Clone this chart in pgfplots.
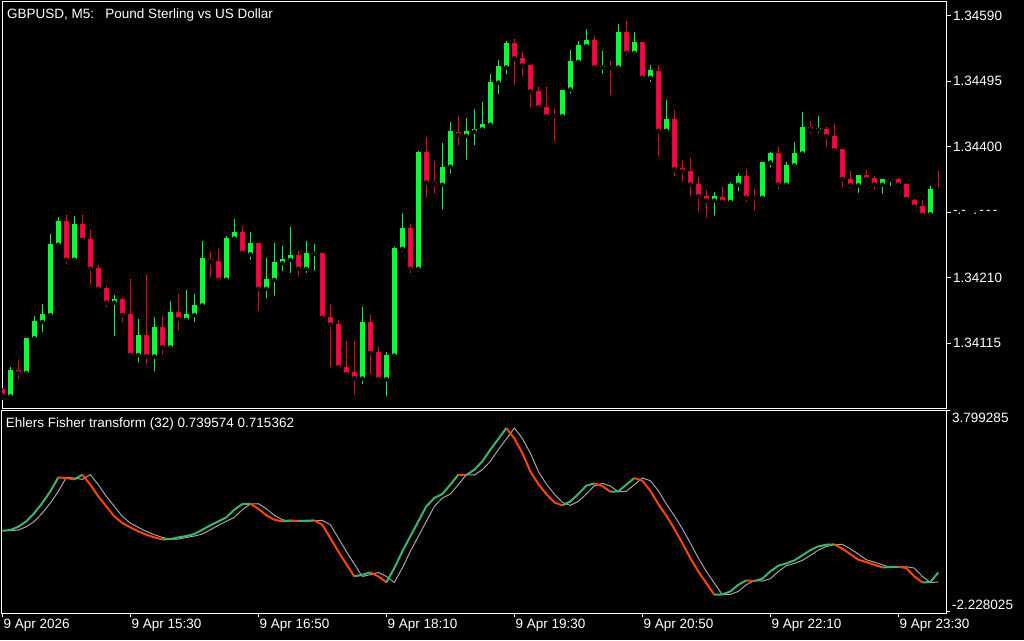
\documentclass[border=0pt]{standalone}
\usepackage{pgfplots}
\pgfplotsset{compat=1.18}
\usepackage{pgfplotstable}
\usepackage{fontspec}
\setmainfont{Liberation Sans}
\definecolor{bullc}{RGB}{0,255,51}
\definecolor{bearc}{RGB}{255,0,0}
\definecolor{bearf}{RGB}{255,0,96}
\definecolor{fgreen}{RGB}{60,179,113}
\definecolor{forange}{RGB}{255,69,0}
\definecolor{fsig}{RGB}{165,165,165}
\newcommand{\mtfont}{\fontsize{13.5}{16}\selectfont}

% GBPUSD M5 candles, prices given in points above 1.34000 (1 point = 0.00001)
% i = bar index (0 = 9 Apr 14:10)
\pgfplotstableread{
i o h l c
1 38 81 35 76
3 72 123 67 123
4 122 155 122 147
5 146 172 128 157
6 156 273 154 259
7 258 298 256 292
9 236 300 236 288
14 174 185 122 179
17 98 150 84 127
19 96 153 71 139
21 109 176 107 160
23 149 192 146 157
24 156 186 143 171
25 170 263 165 239
28 207 271 207 268
29 267 295 262 276
31 244 276 233 260
33 194 239 177 208
34 207 260 181 233
35 231 256 216 237
36 236 284 214 243
38 223 263 214 246
39 245 259 217 246.5
45 64 168 53 146
48 63 102 35 98
49 97 255 97 253
50 252 304 245 282
52 223 394 216 392
55 345 405 306 371
56 371 436 358 423
58 416 442 378 423
59 422 455 399 426
60 425 465 425 433
61 432 506 425 494
62 493 526 473 517
63 515 553 502 550
70 444 482 444 482
71 483 540 474 524
72 523 553 517 548
73 546 571 541 555
75 515 539 503 516.5
77 515 578 510 566
79 536 566 535 552
81 500 519 491 511
83 423 468 423 440
89 322 335 297 328
91 320 348 316 346
92 345 362 332 358
95 326 378 325 378
96 377 392 367 391
98 345 378 341 374
99 373 407 368 391
100 390 450 390 429
102 425 445 417 426.5
107 344 359 330 359
110 345 353 329 353
111 352 354 340 353.5
116 302 343 301 339
}\bull
\pgfplotstableread{
i o h l c
0 49 50 36 39
2 76 91 60 72
8 292 301 227 236
10 288 301 265 265
11 266 279 197 223
12 224 229 188 194
13 195 198 165 174
15 179 181 143 156
16 157 208 98 98
18 127 214 82 96
20 139 155 96 109
22 160 186 130 150
26 237 247 208 234
27 234 253 204 207
30 276 285 242 246
32 260 260 159 194
37 243 249 210 223
40 246 246 146 152
41 153 172 78 142
42 143 149 80 80
43 80 119 67 70
44 73 119 38 64
46 146 156 67 101
47 102 110 59 63
51 282 288 214 223
53 393 414 324 348
54 349 379 329 346
57 421 445 399 417
64 550 556 486 528
65 529 537 499 518
66 518 518 454 480
67 481 487 454 457
68 458 487 441 444
69 445 455 405 443.5
74 555 561 512 515
76 516 524 472 514.5
78 566 582 529 536
80 552 552 497 500
82 510 519 383 423
84 440 453 354 367
85 369 381 346 364
86 365 384 325 345
87 346 356 303 328
88 329 338 294 322
90 327 341 316 320
93 358 368 317 326
94 327 339 304 325.5
97 391 400 335 345
101 429 437 416 425
103 426 429 397 415
104 416 433 394 395
105 397 397 339 353
106 353 365 336 344
108 359 366 349 353
109 355 358 335 345
112 353 354 339 345
113 346 346 324 324
114 323 324 311 313
115 314 323 300 301
117 339 365 336 337.5
}\bear
% Ehlers Fisher transform (32)
\pgfplotstableread{
i f
0 0.20
1 0.22
2 0.32
3 0.48
4 0.73
5 1.03
6 1.38
7 1.80
8 1.78
9 1.74
10 1.88
11 1.58
12 1.23
13 0.93
14 0.63
15 0.43
16 0.30
17 0.18
18 0.08
19 0.00
20 -0.06
21 -0.05
22 0.00
23 0.04
24 0.10
25 0.23
26 0.36
27 0.48
28 0.60
29 0.83
30 1.00
31 1.01
32 0.86
33 0.66
34 0.53
35 0.48
36 0.51
37 0.49
38 0.50
39 0.51
40 0.38
41 -0.02
42 -0.42
43 -0.80
44 -1.17
45 -1.12
46 -1.05
47 -1.17
48 -1.35
49 -0.92
50 -0.42
51 0.03
52 0.48
53 0.93
54 1.18
55 1.30
56 1.58
57 1.88
58 1.87
59 2.03
60 2.28
61 2.63
62 2.95
63 3.28
64 2.97
65 2.53
66 1.98
67 1.60
68 1.30
69 1.05
70 0.96
71 1.08
72 1.30
73 1.55
74 1.62
75 1.54
76 1.37
77 1.38
78 1.58
79 1.78
80 1.70
81 1.40
82 1.00
83 0.65
84 0.26
85 -0.17
86 -0.62
87 -1.02
88 -1.37
89 -1.72
90 -1.71
91 -1.62
92 -1.42
93 -1.29
94 -1.31
95 -1.24
96 -1.02
97 -0.85
98 -0.78
99 -0.69
100 -0.54
101 -0.38
102 -0.27
103 -0.22
104 -0.21
105 -0.34
106 -0.50
107 -0.67
108 -0.74
109 -0.82
110 -0.90
111 -0.89
112 -0.88
113 -0.92
114 -1.17
115 -1.35
116 -1.34
117 -1.05
}\fisher

\newcommand{\gseg}[2]{\addplot[fgreen, line width=2pt, forget plot, restrict x to domain=#1:#2] table[x=i,y=f]{\fisher};}
\newcommand{\oseg}[2]{\addplot[forange, line width=2pt, forget plot, restrict x to domain=#1:#2] table[x=i,y=f]{\fisher};}

\begin{document}
\begin{tikzpicture}
\useasboundingbox (0pt,0pt) rectangle (1024pt,640pt);
\fill[black] (0pt,0pt) rectangle (1024pt,640pt);
\begin{axis}[
  at={(2pt,232pt)}, anchor=south west, scale only axis,
  width=944pt, height=406pt,
  xmin=-0.04, xmax=117.96, ymin=21.2, ymax=609.9,
  axis line style={white, line width=1pt},
  xtick=\empty,
  ytick={115,210,305,400,495,590},
  yticklabels={1.34115,1.34210,{-.-\ \ .\,-\,-\,-},1.34400,1.34495,1.34590},
  ytick pos=right, yticklabel pos=right,
  tick align=outside, major tick length=5pt,
  tick style={white, line width=1pt},
  yticklabel style={white, font=\mtfont, inner sep=2pt, anchor=west},
]
% wicks
\addplot[only marks, mark=none, forget plot, error bars/.cd, y dir=plus, y explicit, error mark=none,
  error bar style={draw=bullc, line width=1pt}]
  table[x=i, y=l, y error plus expr=\thisrow{h}-\thisrow{l}] {\bull};
\addplot[only marks, mark=none, forget plot, error bars/.cd, y dir=plus, y explicit, error mark=none,
  error bar style={draw=bearc, line width=1pt}]
  table[x=i, y=l, y error plus expr=\thisrow{h}-\thisrow{l}] {\bear};
% bodies
\addplot[only marks, mark=none, forget plot, error bars/.cd, y dir=plus, y explicit, error mark=none,
  error bar style={draw=bullc, line width=5pt}]
  table[x=i, y=o, y error plus expr=\thisrow{c}-\thisrow{o}] {\bull};
\addplot[only marks, mark=none, forget plot, error bars/.cd, y dir=plus, y explicit, error mark=none,
  error bar style={draw=bearc, line width=5pt}]
  table[x=i, y=c, y error plus expr=\thisrow{o}-\thisrow{c}] {\bear};
\addplot[only marks, mark=none, forget plot, error bars/.cd, y dir=plus, y explicit, error mark=none,
  error bar style={draw=bearf, line width=3pt, shorten <=1pt, shorten >=1pt}]
  table[x=i, y=c, y error plus expr=\thisrow{o}-\thisrow{c}] {\bear};
\end{axis}

\begin{axis}[
  at={(2pt,27pt)}, anchor=south west, scale only axis,
  width=944pt, height=203pt,
  xmin=-0.04, xmax=117.96, ymin=-2.267, ymax=3.820,
  axis line style={white, line width=1pt},
  xtick={0,16,32,48,64,80,96,112},
  xticklabels={9 Apr 2026,9 Apr 15:30,9 Apr 16:50,9 Apr 18:10,9 Apr 19:30,9 Apr 20:50,9 Apr 22:10,9 Apr 23:30},
  xtick pos=left, xticklabel pos=left,
  xticklabel style={white, font=\mtfont, anchor=north west, inner sep=2pt, xshift=-1pt},
  ytick={3.799285}, yticklabels={3.799285},
  extra y ticks={-2.228025}, extra y tick labels={-2.228025},
  extra y tick style={yticklabel style={anchor=south west}},
  ytick pos=right, yticklabel pos=right,
  yticklabel style={white, font=\mtfont, anchor=north west, inner sep=2pt},
  tick align=outside, major tick length=4pt,
  tick style={white, line width=1pt},
]
\addplot[fsig, line width=1pt, forget plot, restrict x to domain=1:117] table[x expr=\thisrow{i}+1, y=f]{\fisher};
\gseg{0}{7}
\oseg{7}{9}
\gseg{9}{10}
\oseg{10}{20}
\gseg{20}{31}
\oseg{31}{35}
\gseg{35}{36}
\oseg{36}{37}
\gseg{37}{39}
\oseg{39}{44}
\gseg{44}{46}
\oseg{46}{48}
\gseg{48}{57}
\oseg{57}{58}
\gseg{58}{63}
\oseg{63}{70}
\gseg{70}{74}
\oseg{74}{76}
\gseg{76}{79}
\oseg{79}{89}
\gseg{89}{93}
\oseg{93}{94}
\gseg{94}{104}
\oseg{104}{110}
\gseg{110}{112}
\oseg{112}{115}
\gseg{115}{117}
\end{axis}
\node[anchor=base west, inner sep=0pt, text=white, font=\mtfont] at (7pt,621.3pt) {GBPUSD, M5:\ \ \ Pound Sterling vs US Dollar};
\node[anchor=base west, inner sep=0pt, text=white, font=\mtfont] at (5.7pt,212.3pt) {Ehlers Fisher transform (32) 0.739574 0.715362};
\end{tikzpicture}
\end{document}
